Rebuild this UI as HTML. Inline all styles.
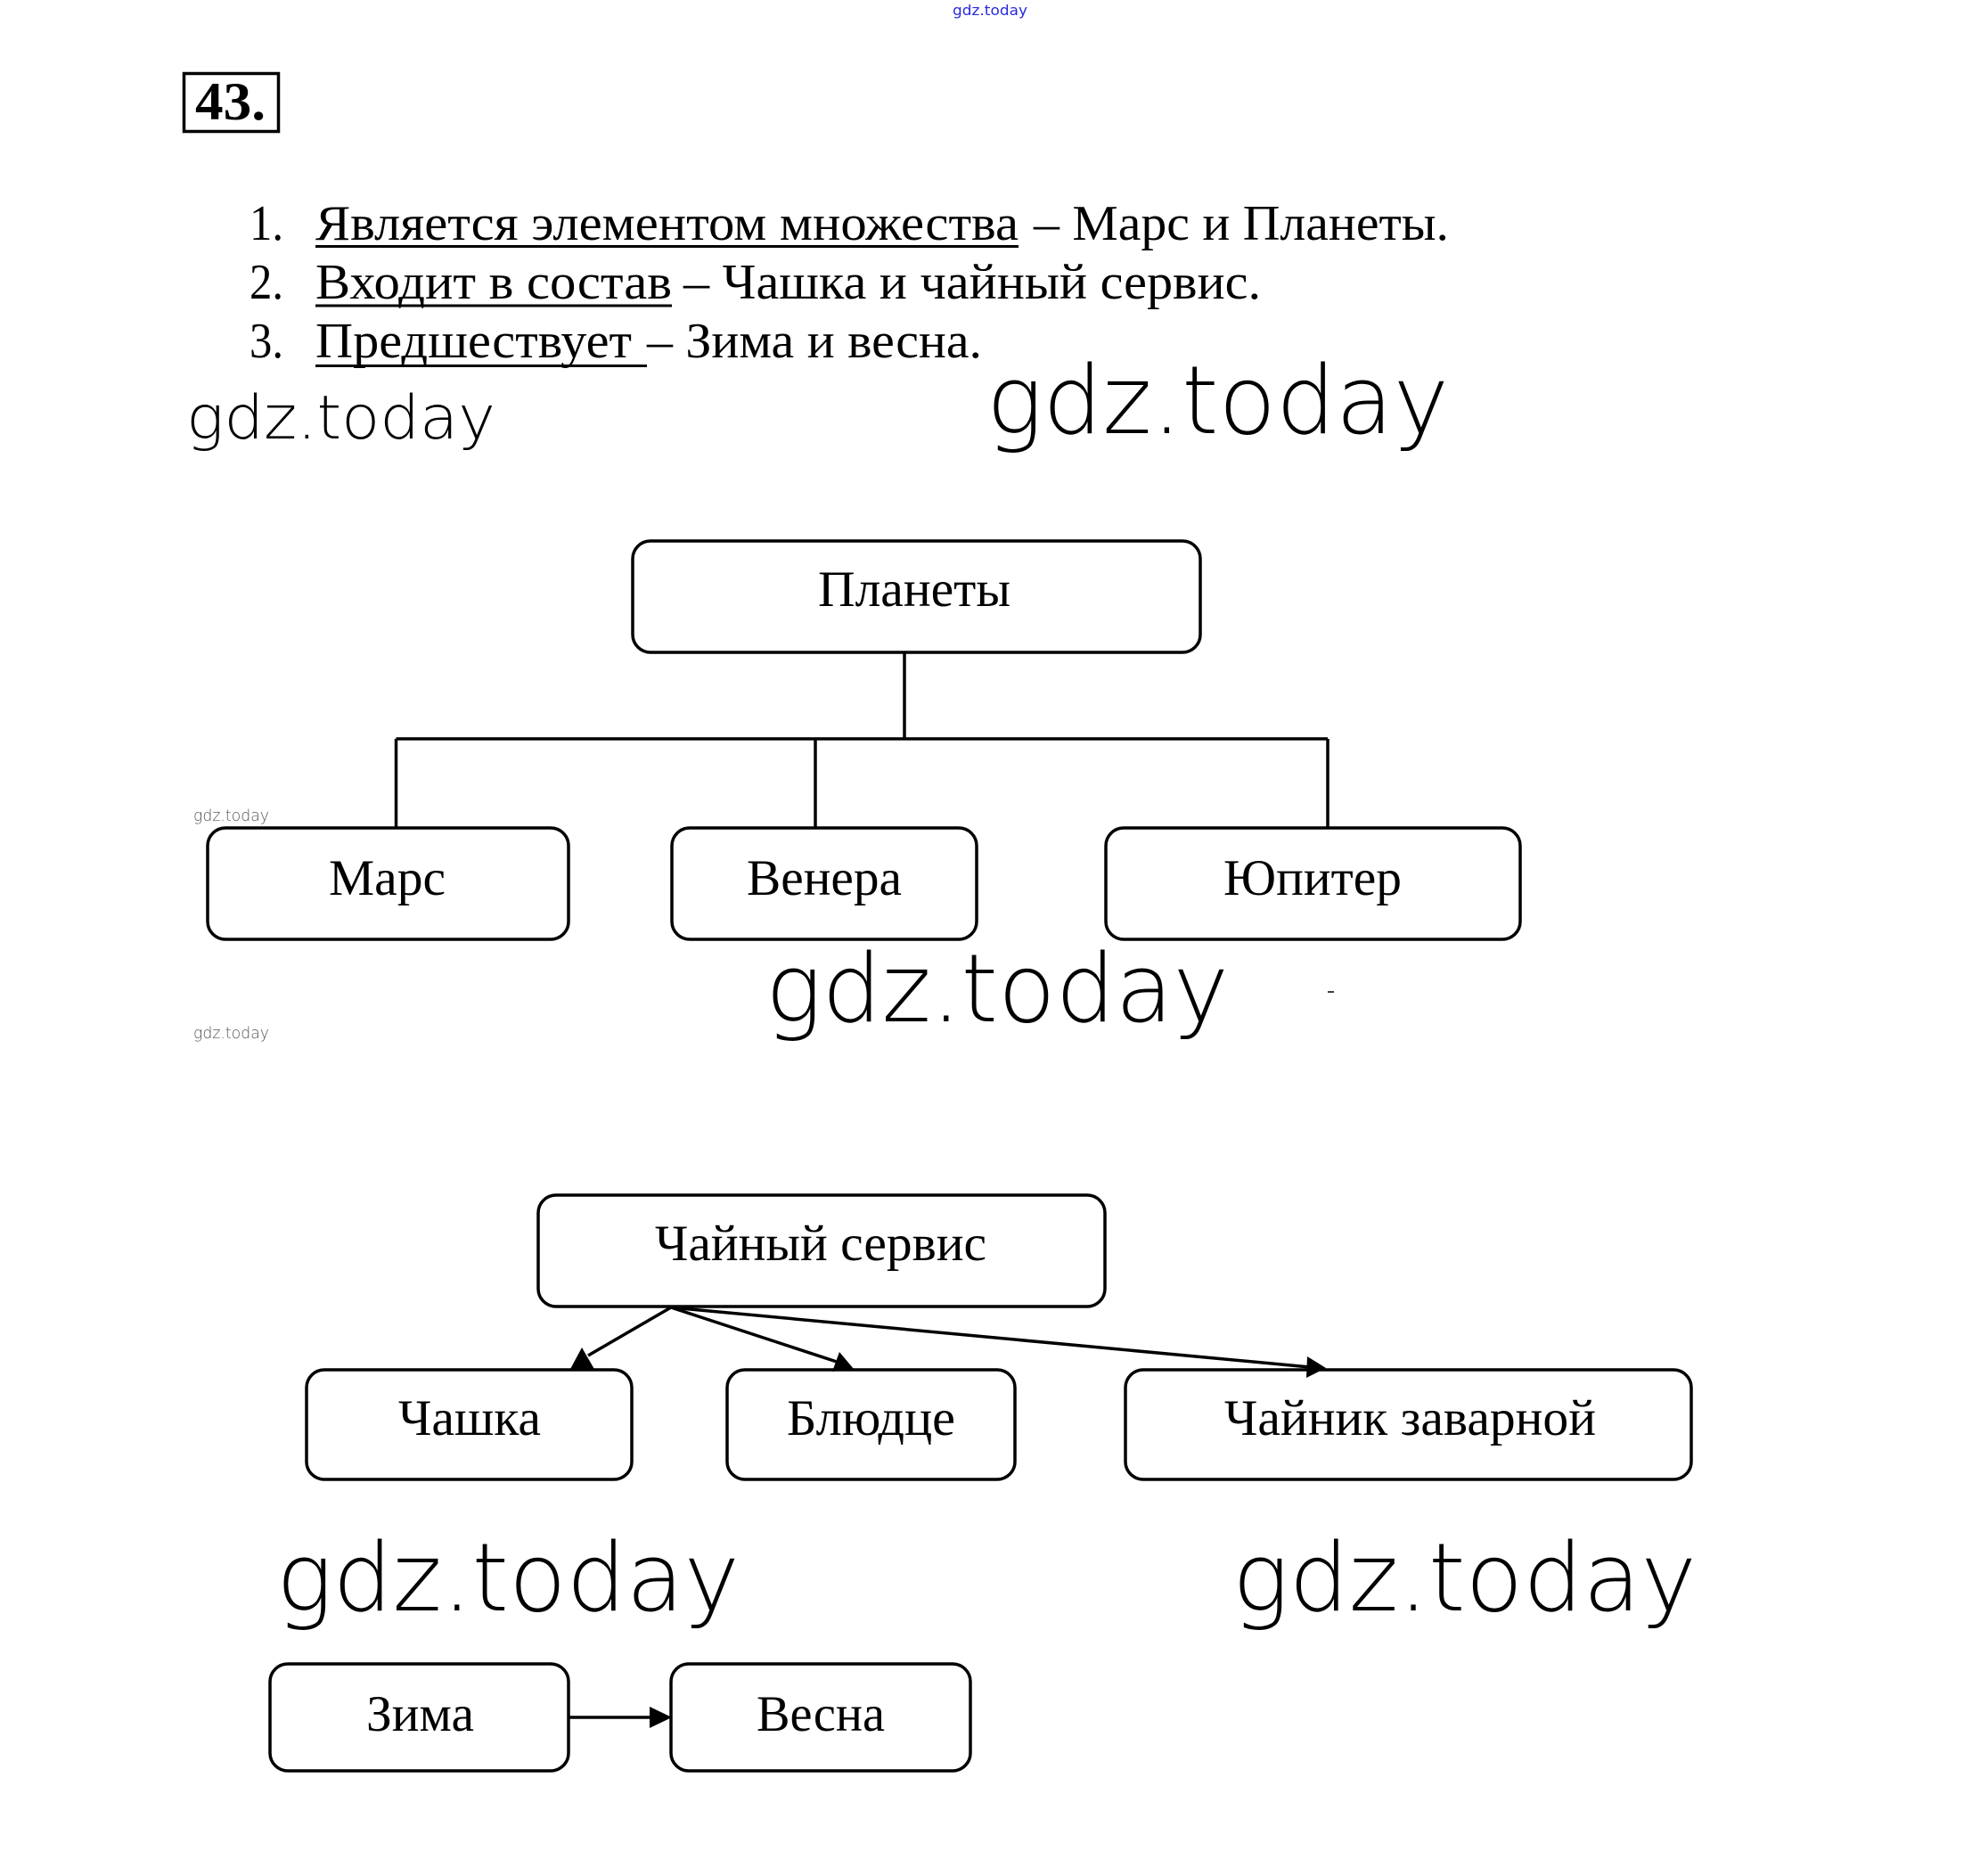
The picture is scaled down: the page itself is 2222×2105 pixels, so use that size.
<!DOCTYPE html>
<html>
<head>
<meta charset="utf-8">
<style>
  html, body { margin: 0; padding: 0; background: #ffffff; }
  svg { display: block; }
  .serif { font-family: "Liberation Serif", "Noto Serif CJK SC", serif; fill: #000; }
  .wm { font-family: "DejaVu Sans", "Liberation Sans", sans-serif; font-weight: 200; fill: #000; }
</style>
</head>
<body>
<svg width="2222" height="2105" viewBox="0 0 2222 2105" xmlns="http://www.w3.org/2000/svg">
  <rect x="0" y="0" width="2222" height="2105" fill="#ffffff"/>

  <!-- top small blue watermark -->
  <text x="1069" y="17" font-size="16" style="font-family:'DejaVu Sans','Liberation Sans',sans-serif;fill:#2a2ae0;font-weight:normal" textLength="84" lengthAdjust="spacingAndGlyphs">gdz.today</text>

  <!-- 43. box -->
  <rect x="206.5" y="82.5" width="106" height="65" fill="none" stroke="#000" stroke-width="3.5"/>
  <text class="serif" x="219" y="134" font-size="60" font-weight="bold" textLength="79" lengthAdjust="spacingAndGlyphs">43.</text>

  <!-- list -->
  <g class="serif" font-size="56">
    <text x="280" y="269" textLength="38" lengthAdjust="spacingAndGlyphs">1.</text>
    <text x="354" y="269" textLength="789" lengthAdjust="spacingAndGlyphs">Является элементом множества</text>
    <text x="1160" y="269" textLength="466" lengthAdjust="spacingAndGlyphs">– Марс и Планеты.</text>

    <text x="280" y="335" textLength="38" lengthAdjust="spacingAndGlyphs">2.</text>
    <text x="354" y="335" textLength="400" lengthAdjust="spacingAndGlyphs">Входит в состав</text>
    <text x="767" y="335" textLength="648" lengthAdjust="spacingAndGlyphs">– Чашка и чайный сервис.</text>

    <text x="280" y="401" textLength="38" lengthAdjust="spacingAndGlyphs">3.</text>
    <text x="354" y="401" textLength="355" lengthAdjust="spacingAndGlyphs">Предшествует</text>
    <text x="726" y="401" textLength="376" lengthAdjust="spacingAndGlyphs">– Зима и весна.</text>
  </g>
  <g fill="#000">
    <rect x="354" y="275" width="789" height="3"/>
    <rect x="354" y="341.5" width="400" height="3"/>
    <rect x="354" y="409" width="372" height="3"/>
  </g>

  <!-- big watermarks -->
  <text class="wm" x="209" y="492" font-size="68" textLength="347" lengthAdjust="spacingAndGlyphs">gdz.today</text>
  <text class="wm" x="1107" y="486" font-size="106" textLength="519" lengthAdjust="spacingAndGlyphs">gdz.today</text>

  <!-- Planets tree -->
  <g fill="none" stroke="#000" stroke-width="3.5">
    <rect x="710" y="607" width="637" height="125" rx="20" ry="20"/>
    <line x1="1015" y1="732" x2="1015" y2="829"/>
    <line x1="444.5" y1="829" x2="1490" y2="829"/>
    <line x1="444.5" y1="829" x2="444.5" y2="929"/>
    <line x1="915" y1="829" x2="915" y2="929"/>
    <line x1="1490" y1="829" x2="1490" y2="929"/>
    <rect x="233" y="929" width="405" height="125" rx="20" ry="20"/>
    <rect x="754" y="929" width="342" height="125" rx="20" ry="20"/>
    <rect x="1241" y="929" width="465" height="125" rx="20" ry="20"/>
  </g>
  <g class="serif" font-size="57">
    <text x="918" y="680" textLength="216" lengthAdjust="spacingAndGlyphs">Планеты</text>
    <text x="369" y="1004" textLength="131" lengthAdjust="spacingAndGlyphs">Марс</text>
    <text x="838" y="1004" textLength="174" lengthAdjust="spacingAndGlyphs">Венера</text>
    <text x="1373" y="1004" textLength="200" lengthAdjust="spacingAndGlyphs">Юпитер</text>
  </g>

  <!-- small gray watermarks -->
  <text class="wm" x="217" y="921" font-size="18" style="fill:#555" textLength="85" lengthAdjust="spacingAndGlyphs">gdz.today</text>
  <text class="wm" x="217" y="1165" font-size="18" style="fill:#555" textLength="85" lengthAdjust="spacingAndGlyphs">gdz.today</text>

  <!-- big watermark middle -->
  <text class="wm" x="859" y="1146" font-size="106" textLength="520" lengthAdjust="spacingAndGlyphs">gdz.today</text>
  <line x1="1490" y1="1113" x2="1497" y2="1113" stroke="#000" stroke-width="1.5"/>

  <!-- Tea service -->
  <g fill="none" stroke="#000" stroke-width="3.5">
    <rect x="604" y="1341" width="636" height="125" rx="20" ry="20"/>
    <rect x="344" y="1537" width="365" height="123" rx="20" ry="20"/>
    <rect x="816" y="1537" width="323" height="123" rx="20" ry="20"/>
    <rect x="1263" y="1537" width="635" height="123" rx="20" ry="20"/>
    <line x1="753" y1="1467" x2="660" y2="1521"/>
    <line x1="753" y1="1467" x2="942" y2="1529"/>
    <line x1="753" y1="1467" x2="1470" y2="1534"/>
  </g>
  <g fill="#000">
    <polygon points="653,1512 639,1538 668,1538"/>
    <polygon points="958,1536 942,1517 934,1539"/>
    <polygon points="1488,1535 1467,1522 1466,1546"/>
  </g>
  <g class="serif" font-size="57">
    <text x="735" y="1414" textLength="372" lengthAdjust="spacingAndGlyphs">Чайный сервис</text>
    <text x="447" y="1610" textLength="160" lengthAdjust="spacingAndGlyphs">Чашка</text>
    <text x="883" y="1610" textLength="189" lengthAdjust="spacingAndGlyphs">Блюдце</text>
    <text x="1374" y="1610" textLength="417" lengthAdjust="spacingAndGlyphs">Чайник заварной</text>
  </g>

  <!-- bottom watermarks -->
  <text class="wm" x="310" y="1807" font-size="106" textLength="520" lengthAdjust="spacingAndGlyphs">gdz.today</text>
  <text class="wm" x="1383" y="1807" font-size="106" textLength="521" lengthAdjust="spacingAndGlyphs">gdz.today</text>

  <!-- Winter -> Spring -->
  <g fill="none" stroke="#000" stroke-width="3.5">
    <rect x="303" y="1867" width="335" height="120" rx="20" ry="20"/>
    <rect x="753" y="1867" width="336" height="120" rx="20" ry="20"/>
    <line x1="638" y1="1927" x2="732" y2="1927"/>
  </g>
  <polygon points="729,1915 754,1927 729,1939" fill="#000"/>
  <g class="serif" font-size="57">
    <text x="411" y="1942" textLength="121" lengthAdjust="spacingAndGlyphs">Зима</text>
    <text x="849" y="1942" textLength="144" lengthAdjust="spacingAndGlyphs">Весна</text>
  </g>
</svg>
</body>
</html>
